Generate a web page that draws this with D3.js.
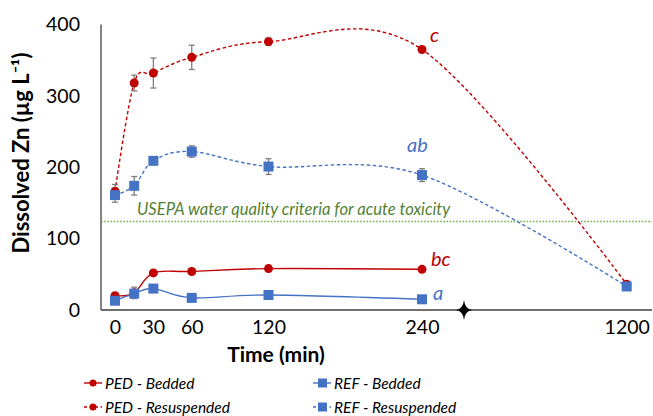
<!DOCTYPE html>
<html><head><meta charset="utf-8">
<script src="https://cdn.jsdelivr.net/npm/d3@7/dist/d3.min.js"></script>
<style>
body{margin:0;background:#fff;}
svg{display:block;}
text{font-family:Lato, "Open Sans", sans-serif;}
</style></head>
<body>
<svg id="chart" width="653" height="416"></svg>
<script>
// ---- data ----
const times = [0, 15, 30, 60, 120, 240, 1200];
const xTickLabels = [0, 30, 60, 120, 240, 1200];
const yTicks = [0, 100, 200, 300, 400];

const pedResusp = [166, 318, 332, 354, 376, 365, 36];
const pedResuspErr = [10, 11, 21, 17, 5, 4, 2];
const refResusp = [161, 174, 209, 222, 201, 189, 33];
const refResuspErr = [10, 13, 0, 8, 11, 9, 0];
const pedBedded = [20, 24, 52, 54, 58, 57];
const pedBeddedErr = [0, 8, 0, 0, 0, 0];
const refBedded = [13, 23, 30, 17, 21, 15];
const refBeddedErr = [0, 0, 0, 0, 0, 0];

const usepaValue = 124;
const usepaLabel = "USEPA water quality criteria for acute toxicity";
const sigLetters = ["c", "ab", "bc", "a"];
const legendLabels = ["PED - Bedded", "PED - Resuspended", "REF - Bedded", "REF - Resuspended"];

// ---- styles ----
const RED = "#C00000", BLUE = "#4472C4", GREEN = "#548235", GRAY = "#7F7F7F";

const svg = d3.select("#chart");

const x = d3.scaleLinear().domain([0, 240, 1200]).range([115, 422, 626.7]);
const y = d3.scaleLinear().domain([0, 400]).range([310, 24.5]);

// axes
const axisX0 = 101, axisX1 = 652;
svg.append("line").attr("x1", axisX0).attr("x2", axisX0).attr("y1", y(400)).attr("y2", y(0))
  .attr("stroke", "#404040").attr("stroke-width", 1.3);
svg.append("line").attr("x1", axisX0).attr("x2", axisX1).attr("y1", y(0)).attr("y2", y(0))
  .attr("stroke", "#404040").attr("stroke-width", 1.3);

const yAxis = d3.axisLeft(y).tickValues(yTicks).tickSize(0).tickPadding(0).tickFormat(d3.format("d"));
const gy = svg.append("g").attr("transform", "translate(80,0)").call(yAxis);
gy.select(".domain").remove();
gy.selectAll("text").attr("font-size", 19.5).attr("fill", "#000").attr("font-family", "Lato, sans-serif");

const xAxis = d3.axisBottom(x).tickValues(xTickLabels).tickSize(0).tickPadding(0).tickFormat(d3.format("d"));
const gx = svg.append("g").attr("transform", "translate(0,320)").call(xAxis);
gx.select(".domain").remove();
gx.selectAll("text").attr("font-size", 19.5).attr("fill", "#000").attr("font-family", "Lato, sans-serif");

// axis break mark
const bx = 464, by = y(0);
svg.append("path")
  .attr("d", `M${bx},${by-10} Q${bx+1},${by-1} ${bx+8},${by} Q${bx+1},${by+1} ${bx},${by+10} Q${bx-1},${by+1} ${bx-8},${by} Q${bx-1},${by-1} ${bx},${by-10}Z`)
  .attr("fill", "#000");

// axis titles
svg.append("text").attr("transform", "translate(29,153) rotate(-90)")
  .attr("text-anchor", "middle").attr("font-size", 22).attr("font-weight", "bold")
  .text("Dissolved Zn (µg L\u207B\u00B9)");
svg.append("text").attr("x", 276).attr("y", 362).attr("text-anchor", "middle")
  .attr("font-size", 21).attr("font-weight", "bold").text("Time (min)");

// USEPA line
svg.append("line").attr("x1", axisX0).attr("x2", axisX1).attr("y1", y(usepaValue)).attr("y2", y(usepaValue))
  .attr("stroke", "#70AD47").attr("stroke-width", 1.6).attr("stroke-dasharray", "1.6,1.6");
svg.append("text").attr("x", 137).attr("y", 215).attr("font-size", 16.6).attr("font-style", "italic")
  .attr("fill", GREEN).text(usepaLabel);

const line = d3.line().x(d => x(d[0])).y(d => y(d[1])).curve(d3.curveCardinal.tension(0));

const series = [
  {vals: pedBedded, err: pedBeddedErr, color: RED, dash: null, shape: "circle"},
  {vals: refBedded, err: refBeddedErr, color: BLUE, dash: null, shape: "square"},
  {vals: pedResusp, err: pedResuspErr, color: RED, dash: "3.5,2.5", shape: "circle"},
  {vals: refResusp, err: refResuspErr, color: BLUE, dash: "3.5,2.5", shape: "square"},
];

// lines
series.forEach(s => {
  const pts = s.vals.map((v, i) => [times[i], v]);
  svg.append("path").attr("d", line(pts)).attr("fill", "none")
    .attr("stroke", s.color).attr("stroke-width", 1.4)
    .attr("stroke-dasharray", s.dash);
});

// error bars
series.forEach(s => {
  s.vals.forEach((v, i) => {
    const e = s.err[i];
    if (!e) return;
    const g = svg.append("g").attr("stroke", GRAY).attr("stroke-width", 1.3);
    const cx = x(times[i]);
    g.append("line").attr("x1", cx).attr("x2", cx).attr("y1", y(v - e)).attr("y2", y(v + e));
    g.append("line").attr("x1", cx - 3).attr("x2", cx + 3).attr("y1", y(v - e)).attr("y2", y(v - e));
    g.append("line").attr("x1", cx - 3).attr("x2", cx + 3).attr("y1", y(v + e)).attr("y2", y(v + e));
  });
});

function marker(g, shape, cx, cy, color) {
  if (shape === "circle") g.append("circle").attr("cx", cx).attr("cy", cy).attr("r", 4.5).attr("fill", color);
  else g.append("rect").attr("x", cx - 5).attr("y", cy - 5).attr("width", 10).attr("height", 10).attr("fill", color);
}

// markers (draw red first, blue on top)
[series[2], series[0], series[3], series[1]].forEach(s => {
  s.vals.forEach((v, i) => marker(svg, s.shape, x(times[i]), y(v), s.color));
});

// significance letters
const sigPos = [
  {s: pedResusp, dx: 8, dy: -7, color: RED},
  {s: refResusp, dx: -15, dy: -23, color: BLUE},
  {s: pedBedded, dx: 9, dy: -3, color: RED},
  {s: refBedded, dx: 11, dy: 1, color: BLUE},
];
sigLetters.forEach((t, i) => {
  const p = sigPos[i];
  svg.append("text").attr("x", x(240) + p.dx).attr("y", y(p.s[5]) + p.dy)
    .attr("font-size", 20).attr("font-style", "italic").attr("fill", p.color).text(t);
});

// legend
const legendItems = [
  {label: legendLabels[0], color: RED, dash: null, shape: "circle", x: 84, y: 383},
  {label: legendLabels[1], color: RED, dash: "3,2.5", shape: "circle", x: 84, y: 407},
  {label: legendLabels[2], color: BLUE, dash: null, shape: "square", x: 313, y: 383},
  {label: legendLabels[3], color: BLUE, dash: "3,2.5", shape: "square", x: 313, y: 407},
];
legendItems.forEach(it => {
  const g = svg.append("g");
  g.append("line").attr("x1", it.x).attr("x2", it.x + 18).attr("y1", it.y).attr("y2", it.y)
    .attr("stroke", it.color).attr("stroke-width", 1.4).attr("stroke-dasharray", it.dash);
  if (it.shape === "circle") g.append("circle").attr("cx", it.x + 9).attr("cy", it.y).attr("r", 3.5).attr("fill", it.color);
  else g.append("rect").attr("x", it.x + 5).attr("y", it.y - 4.5).attr("width", 9).attr("height", 9).attr("fill", it.color);
  g.append("text").attr("x", it.x + 21).attr("y", it.y + 6).attr("font-size", 15.5).attr("font-style", "italic")
    .attr("fill", "#000").text(it.label);
});
</script>
</body></html>
